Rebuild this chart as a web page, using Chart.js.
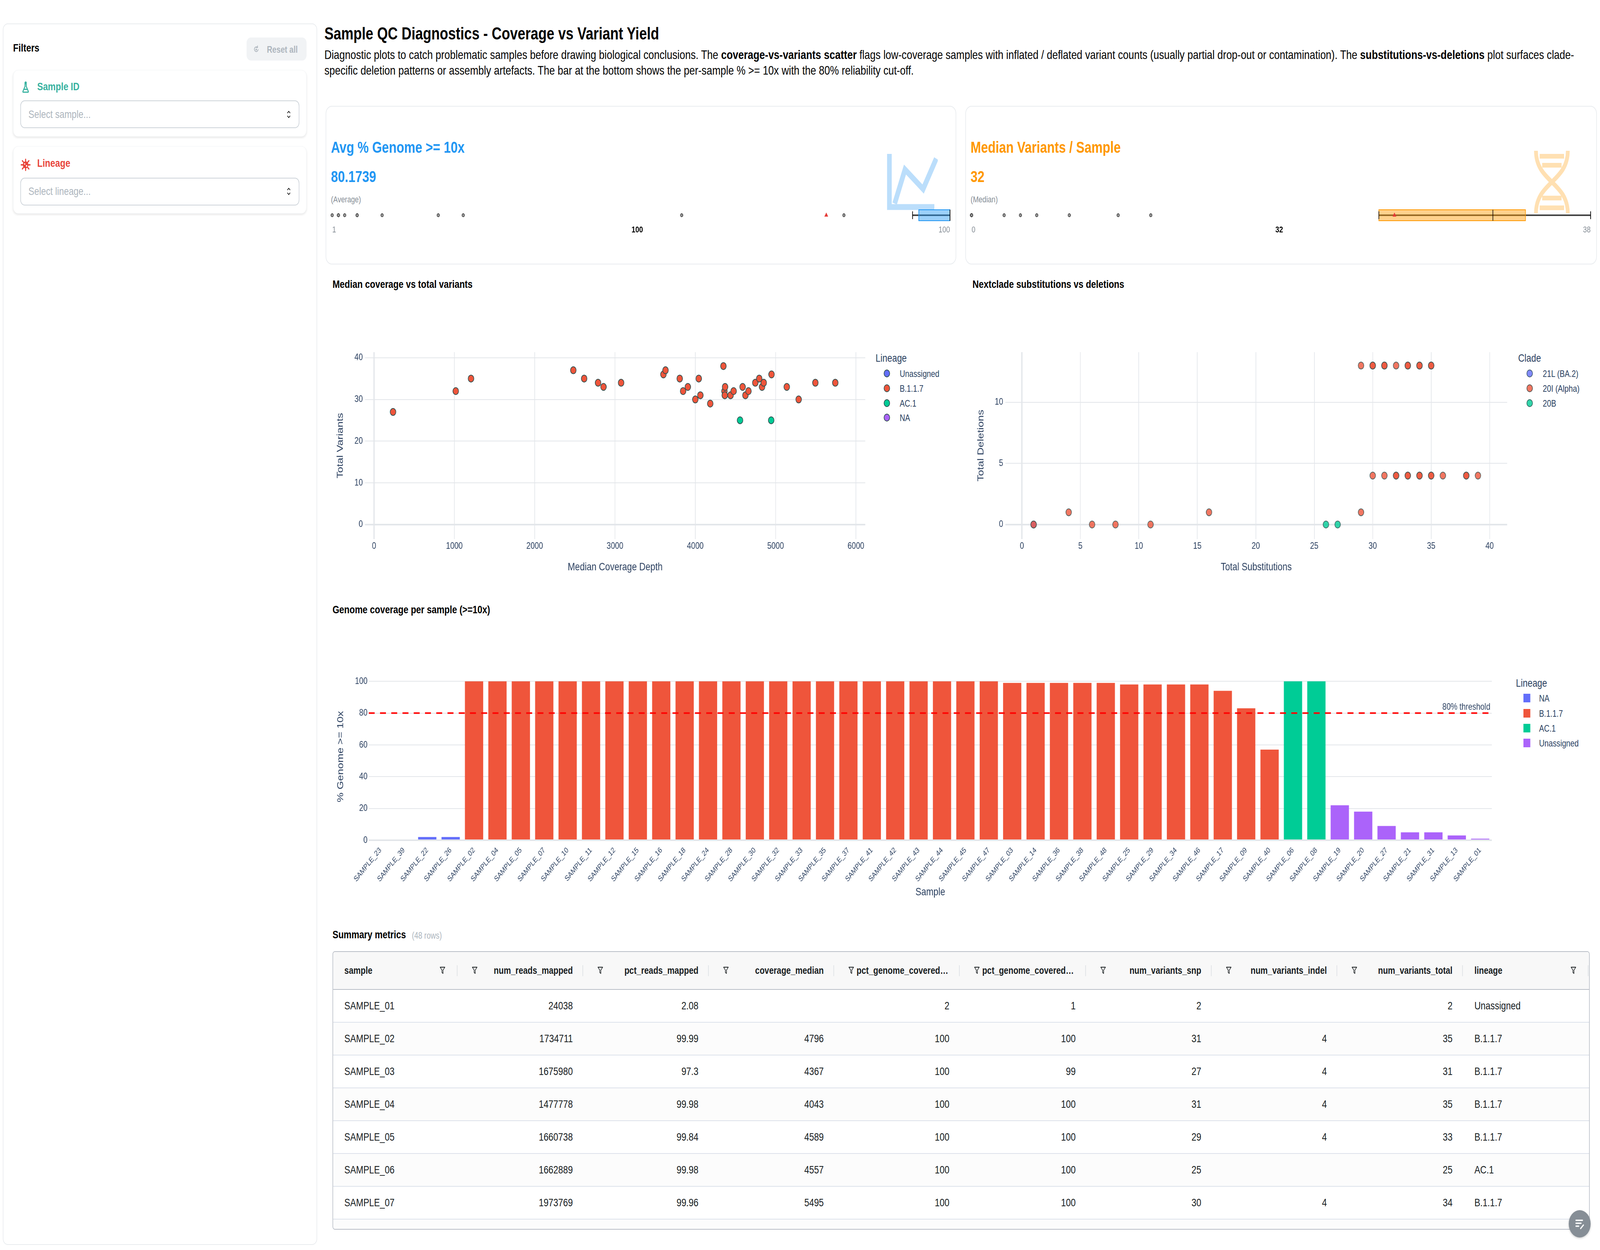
<!DOCTYPE html>
<html>
<head>
<meta charset="utf-8">
<title>Sample QC Diagnostics</title>
<script src="https://cdn.jsdelivr.net/npm/chart.js@4.4.1/dist/chart.umd.min.js"></script>
<style>
html,body{margin:0;padding:0;background:#fff;overflow:hidden;}
#page{position:absolute;left:0;top:0;width:5120px;height:3200px;overflow:hidden;transform-origin:0 0;font-family:'Liberation Sans',Arial,Helvetica,sans-serif;color:#000;background:#fff;}
.t{position:absolute;line-height:1;white-space:nowrap;}
.box{position:absolute;box-sizing:border-box;background:#fff;}
canvas{position:absolute;}
.leg{position:absolute;font-size:24px;line-height:1;color:#2a3f5f;white-space:nowrap;}
.tbl{position:absolute;left:1064px;top:2435px;width:4023px;height:713px;border:2px solid #babfc7;border-radius:8px;box-sizing:border-box;overflow:hidden;background:#fff;color:#181d1f;}
.cell{position:absolute;display:flex;align-items:center;box-sizing:border-box;font-size:28px;white-space:nowrap;}
</style>
</head>
<body>
<div id="page">

<!-- Sidebar -->
<div class="box" style="left:9px;top:60px;width:1006px;height:3127px;border:2px solid #e9ecef;border-radius:16px;"></div>
<div class="t" style="left:42px;top:109px;font-size:28px;font-weight:700;">Filters</div>
<div class="box" style="left:789px;top:96px;width:192px;height:59px;background:#f1f3f5;border-radius:14px;"></div>
<svg class="t" style="left:809px;top:114px;" width="22" height="24" viewBox="0 0 24 24" fill="none" stroke="#adb5bd" stroke-width="2.4" stroke-linecap="round"><path d="M18.5 13a6.5 6.5 0 1 1-2.6-6.2"/><path d="M16.5 2.8v4.4h-4.2"/><circle cx="12" cy="13" r="1.4" fill="#adb5bd"/></svg>
<div class="t" style="left:854px;top:115px;font-size:24px;font-weight:700;color:#adb5bd;">Reset all</div>

<div class="box" style="left:42px;top:179px;width:939px;height:171px;border-radius:16px;border:1px solid #f1f3f5;box-shadow:0 3px 6px rgba(0,0,0,0.09);"></div>
<svg class="t" style="left:66px;top:208px;" width="32" height="32" viewBox="0 0 24 24" fill="none" stroke="#38b2a0" stroke-width="2.3" stroke-linecap="round" stroke-linejoin="round"><circle cx="12" cy="3.2" r="1.6" fill="#38b2a0"/><path d="M10.5 5.5v4.5l-5 9.5a1 1 0 0 0 .9 1.5h11.2a1 1 0 0 0 .9-1.5l-5-9.5V5.5"/><path d="M8 15.5h8"/></svg>
<div class="t" style="left:119px;top:208px;font-size:28px;font-weight:700;color:#38b2a0;">Sample ID</div>
<div class="box" style="left:65px;top:257px;width:893px;height:71px;border:2px solid #ced4da;border-radius:14px;"></div>
<div class="t" style="left:91px;top:279px;font-size:28px;color:#adb5bd;">Select sample...</div>
<svg class="t" style="left:916px;top:280px;" width="16" height="26" viewBox="0 0 16 26" fill="none" stroke="#222" stroke-width="2" stroke-linecap="round"><path d="M4 9l4-4 4 4"/><path d="M4 17l4 4 4-4"/></svg>

<div class="box" style="left:42px;top:374px;width:939px;height:173px;border-radius:16px;border:1px solid #f1f3f5;box-shadow:0 3px 6px rgba(0,0,0,0.09);"></div>
<svg class="t" style="left:64px;top:404px;" width="36" height="36" viewBox="0 0 24 24"><g stroke="#e8443a" stroke-width="2.2" stroke-linecap="round"><path d="M12 2.5v4M12 17.5v4M2.5 12h4M17.5 12h4M5 5l3 3M16 16l3 3M5 19l3-3M16 8l3-3"/></g><circle cx="12" cy="12" r="6" fill="#e8443a"/><circle cx="10" cy="10.5" r="1.3" fill="#fff"/><circle cx="14" cy="13.8" r="1.5" fill="#fff"/></svg>
<div class="t" style="left:119px;top:404px;font-size:28px;font-weight:700;color:#e8443a;">Lineage</div>
<div class="box" style="left:65px;top:455px;width:893px;height:71px;border:2px solid #ced4da;border-radius:14px;"></div>
<div class="t" style="left:91px;top:476px;font-size:28px;color:#adb5bd;">Select lineage...</div>
<svg class="t" style="left:916px;top:477px;" width="16" height="26" viewBox="0 0 16 26" fill="none" stroke="#222" stroke-width="2" stroke-linecap="round"><path d="M4 9l4-4 4 4"/><path d="M4 17l4 4 4-4"/></svg>

<!-- Header -->
<div class="t" style="left:1038px;top:64px;font-size:44px;font-weight:700;">Sample QC Diagnostics - Coverage vs Variant Yield</div>
<div class="t" style="left:1038px;top:124px;font-size:32px;">Diagnostic plots to catch problematic samples before drawing biological conclusions. The <b>coverage-vs-variants scatter</b> flags low-coverage samples with inflated / deflated variant counts (usually partial drop-out or contamination). The <b>substitutions-vs-deletions</b> plot surfaces clade-</div>
<div class="t" style="left:1038px;top:164px;font-size:32px;">specific deletion patterns or assembly artefacts. The bar at the bottom shows the per-sample % &gt;= 10x with the 80% reliability cut-off.</div>

<!-- KPI cards -->
<div class="box" style="left:1042px;top:271px;width:2018px;height:406px;border:2px solid #e9ecef;border-radius:20px;"></div>
<div class="box" style="left:3089px;top:271px;width:2021px;height:406px;border:2px solid #e9ecef;border-radius:20px;"></div>
<svg class="t" style="left:2838px;top:394px;" width="163" height="144" viewBox="0 0 163 144" fill="none" stroke="#bbdefb" stroke-width="15"><path d="M8 0V136H152"/><path d="M25 127L58 40L116 90L158 12"/></svg>
<svg class="t" style="left:4901px;top:386px;" width="130" height="160" viewBox="0 0 130 160" fill="none" stroke="#ffe0b2"><path d="M14 0C14 80 116 80 116 160" stroke-width="12"/><path d="M116 0C116 80 14 80 14 160" stroke-width="12"/><path d="M26 14H104M34 37H96M34 121H96M26 146H104" stroke-width="12"/></svg>

<div class="t" style="left:1059px;top:357px;font-size:40px;font-weight:700;color:#2196f3;">Avg % Genome &gt;= 10x</div>
<div class="t" id="k1val" style="left:1059px;top:432px;font-size:40px;font-weight:700;color:#2196f3;"></div>
<div class="t" style="left:1059px;top:500px;font-size:22px;color:#868e96;">(Average)</div>
<canvas id="kpi1" width="2030" height="50" style="left:1040px;top:526px;"></canvas>
<div id="k1lab" class="t" style="left:1063px;top:577px;width:1977px;display:flex;justify-content:space-between;font-size:22px;"></div>

<div class="t" style="left:3106px;top:357px;font-size:40px;font-weight:700;color:#ff9800;">Median Variants / Sample</div>
<div class="t" id="k2val" style="left:3106px;top:432px;font-size:40px;font-weight:700;color:#ff9800;"></div>
<div class="t" style="left:3106px;top:500px;font-size:22px;color:#868e96;">(Median)</div>
<canvas id="kpi2" width="2020" height="50" style="left:3090px;top:526px;"></canvas>
<div id="k2lab" class="t" style="left:3109px;top:577px;width:1981px;display:flex;justify-content:space-between;font-size:22px;"></div>

<!-- Chart titles -->
<div class="t" style="left:1064px;top:714px;font-size:28px;font-weight:700;">Median coverage vs total variants</div>
<div class="t" style="left:3112px;top:714px;font-size:28px;font-weight:700;">Nextclade substitutions vs deletions</div>
<div class="t" style="left:1064px;top:1547px;font-size:28px;font-weight:700;">Genome coverage per sample (&gt;=10x)</div>

<canvas id="sc1" width="1726" height="591" style="left:1064px;top:880px;"></canvas>
<canvas id="sc2" width="1731" height="591" style="left:3112px;top:880px;"></canvas>
<canvas id="bar" width="3730" height="604" style="left:1064px;top:1700px;"></canvas>
<div id="legends"></div>

<!-- Table -->
<div class="t" style="left:1064px;top:2379px;font-size:28px;font-weight:700;">Summary metrics</div>
<div class="t" style="left:1318px;top:2384px;font-size:23px;color:#adb5bd;">(48 rows)</div>
<div class="tbl" id="tbl"></div>

<div class="box" style="left:5020px;top:3098px;width:70px;height:70px;border-radius:50%;background:#868e96;box-shadow:0 2px 6px rgba(0,0,0,0.2);"></div>
<svg class="t" style="left:5037px;top:3115px;" width="36" height="36" viewBox="0 0 24 24" fill="none" stroke="#fff" stroke-width="2.2" stroke-linecap="round"><path d="M4 6h14M4 11h11M4 16h6"/><path d="M14 20l6-6"/></svg>
</div>

<script>
// ---- fit the 5120x3200 design exactly into the actual viewport ----
(function () {
  const vw = window.innerWidth || document.documentElement.clientWidth || 5120;
  const vh = window.innerHeight || document.documentElement.clientHeight || 3200;
  const sx = vw / 5120, sy = vh / 3200;
  const page = document.getElementById('page');
  page.style.transform = 'scale(' + sx + ',' + sy + ')';
  document.body.style.width = vw + 'px';
  document.body.style.height = vh + 'px';
})();

// ================= DATA =================
// Scatter 1: median coverage vs total variants (per lineage)
const scatter1Lineages = ['Unassigned', 'B.1.1.7', 'AC.1', 'NA'];
const unassignedCoverage = [];
const unassignedVariants = [];
const b117Coverage = [236, 1017, 1207, 2481, 2616, 2789, 2857, 3076, 3603, 3629, 3806, 3848, 3907, 4000, 4043, 4063, 4186, 4350, 4363, 4367, 4371, 4439, 4477, 4589, 4624, 4662, 4747, 4796, 4831, 4852, 4949, 5139, 5287, 5495, 5743];
const b117Variants = [27, 32, 35, 37, 35, 34, 33, 34, 36, 37, 35, 32, 33, 30, 35, 31, 29, 38, 32, 31, 33, 31, 32, 33, 31, 32, 34, 35, 33, 34, 36, 33, 30, 34, 34];
const ac1Coverage = [4557, 4945];
const ac1Variants = [25, 25];
const naCoverage = [];
const naVariants = [];
// total variants of low-coverage samples (no coverage median)
const lowCovVariantTotals = [0, 0, 0, 0, 0, 2, 3, 4, 6, 9, 11];
const coverageTicks = [0, 1000, 2000, 3000, 4000, 5000, 6000];
const variantTicks = [0, 10, 20, 30, 40];

// Scatter 2: Nextclade substitutions vs deletions (per clade)
const cladeNames = ['21L (BA.2)', '20I (Alpha)', '20B'];
const ba2Subs = [1];
const ba2Dels = [0];
const alphaSubs = [29, 30, 30, 31, 31, 32, 33, 33, 34, 34, 35, 35, 30, 31, 32, 32, 33, 33, 34, 34, 35, 35, 36, 38, 38, 39, 1, 4, 6, 8, 11, 16, 29];
const alphaDels = [13, 13, 13, 13, 13, 13, 13, 13, 13, 13, 13, 13, 4, 4, 4, 4, 4, 4, 4, 4, 4, 4, 4, 4, 4, 4, 0, 1, 0, 0, 0, 1, 1];
const b20Subs = [26, 27];
const b20Dels = [0, 0];
const substitutionTicks = [0, 5, 10, 15, 20, 25, 30, 35, 40];
const deletionTicks = [0, 5, 10];

// Bar: % genome >= 10x per sample
const barSamples = ['SAMPLE_23','SAMPLE_39','SAMPLE_22','SAMPLE_26','SAMPLE_02','SAMPLE_04','SAMPLE_05','SAMPLE_07','SAMPLE_10','SAMPLE_11','SAMPLE_12','SAMPLE_15','SAMPLE_16','SAMPLE_18','SAMPLE_24','SAMPLE_28','SAMPLE_30','SAMPLE_32','SAMPLE_33','SAMPLE_35','SAMPLE_37','SAMPLE_41','SAMPLE_42','SAMPLE_43','SAMPLE_44','SAMPLE_45','SAMPLE_47','SAMPLE_03','SAMPLE_14','SAMPLE_36','SAMPLE_38','SAMPLE_48','SAMPLE_25','SAMPLE_29','SAMPLE_34','SAMPLE_46','SAMPLE_17','SAMPLE_09','SAMPLE_40','SAMPLE_06','SAMPLE_08','SAMPLE_19','SAMPLE_20','SAMPLE_27','SAMPLE_21','SAMPLE_31','SAMPLE_13','SAMPLE_01'];
const barPct10x = [null, null, 2, 2, 100, 100, 100, 100, 100, 100, 100, 100, 100, 100, 100, 100, 100, 100, 100, 100, 100, 100, 100, 100, 100, 100, 100, 99, 99, 99, 99, 99, 98, 98, 98, 98, 94, 83, 57, 100, 100, 22, 18, 9, 5, 5, 3, 1];
const barLineage = ['NA','NA','NA','NA','B.1.1.7','B.1.1.7','B.1.1.7','B.1.1.7','B.1.1.7','B.1.1.7','B.1.1.7','B.1.1.7','B.1.1.7','B.1.1.7','B.1.1.7','B.1.1.7','B.1.1.7','B.1.1.7','B.1.1.7','B.1.1.7','B.1.1.7','B.1.1.7','B.1.1.7','B.1.1.7','B.1.1.7','B.1.1.7','B.1.1.7','B.1.1.7','B.1.1.7','B.1.1.7','B.1.1.7','B.1.1.7','B.1.1.7','B.1.1.7','B.1.1.7','B.1.1.7','B.1.1.7','B.1.1.7','B.1.1.7','AC.1','AC.1','Unassigned','Unassigned','Unassigned','Unassigned','Unassigned','Unassigned','Unassigned'];
const barLineageOrder = ['NA', 'B.1.1.7', 'AC.1', 'Unassigned'];
const pctTicks = [0, 20, 40, 60, 80, 100];
const THRESHOLD = 80;

// Table (first visible rows)
const tblHeaders = ['sample','num_reads_mapped','pct_reads_mapped','coverage_median','pct_genome_covered_1x','pct_genome_covered_10x','num_variants_snp','num_variants_indel','num_variants_total','lineage'];
const tblSample = ['SAMPLE_01','SAMPLE_02','SAMPLE_03','SAMPLE_04','SAMPLE_05','SAMPLE_06','SAMPLE_07'];
const tblReads = [24038, 1734711, 1675980, 1477778, 1660738, 1662889, 1973769];
const tblPctReads = ['2.08', '99.99', '97.3', '99.98', '99.84', '99.98', '99.96'];
const tblCoverage = ['', 4796, 4367, 4043, 4589, 4557, 5495];
const tblPct1x = [2, 100, 100, 100, 100, 100, 100];
const tblPct10x = [1, 100, 99, 100, 100, 100, 100];
const tblSnp = [2, 31, 27, 31, 29, 25, 30];
const tblIndel = ['', 4, 4, 4, 4, '', 4];
const tblTotal = [2, 35, 31, 35, 33, 25, 34];
const tblLineage = ['Unassigned', 'B.1.1.7', 'B.1.1.7', 'B.1.1.7', 'B.1.1.7', 'AC.1', 'B.1.1.7'];

// ================= STYLE =================
const FONT = "'Liberation Sans', Arial, Helvetica, sans-serif";
Chart.defaults.font.family = FONT;
const INK = '#2a3f5f';
const GRID = '#e3e6ea';
const BLUE = '#636efa', RED = '#ef553b', GREEN = '#00cc96', PURPLE = '#ab63fa';
const scatter1Colors = {'Unassigned': BLUE, 'B.1.1.7': RED, 'AC.1': GREEN, 'NA': PURPLE};
const cladeColors = {'21L (BA.2)': 'rgba(99,110,250,0.8)', '20I (Alpha)': 'rgba(239,85,59,0.8)', '20B': 'rgba(0,204,150,0.8)'};
const barColors = {'NA': BLUE, 'B.1.1.7': RED, 'AC.1': GREEN, 'Unassigned': PURPLE};

function setTicks(vals) { return s => { s.ticks = vals.map(v => ({value: v})); }; }
function gridWidth(c) { return (c.tick && c.tick.value === 0) ? 4 : 2; }
const baseOpts = {responsive: false, animation: false, devicePixelRatio: 1};

// ================= SCATTER 1 =================
const s1Data = {
  'Unassigned': [unassignedCoverage, unassignedVariants],
  'B.1.1.7': [b117Coverage, b117Variants],
  'AC.1': [ac1Coverage, ac1Variants],
  'NA': [naCoverage, naVariants]
};
new Chart(document.getElementById('sc1'), {
  type: 'scatter',
  data: {datasets: scatter1Lineages.map((l, k) => ({
    label: l,
    data: s1Data[l][0].map((x, i) => ({x: x, y: s1Data[l][1][i]})),
    backgroundColor: scatter1Colors[l], borderColor: '#2f4f4f', borderWidth: 2,
    pointRadius: 9, pointHoverRadius: 9, order: scatter1Lineages.length - k
  }))},
  options: Object.assign({}, baseOpts, {
    layout: {padding: {top: 10, right: 21, left: 0, bottom: 0}},
    plugins: {legend: {display: false}, tooltip: {enabled: false}},
    scales: {
      x: {type: 'linear', min: -113, max: 6117, afterBuildTicks: setTicks(coverageTicks), afterFit: s => { s.height = 91; },
        grid: {color: GRID, lineWidth: gridWidth, drawTicks: false}, border: {display: false},
        ticks: {color: INK, font: {size: 24}, padding: 4, maxRotation: 0, callback: v => String(v)},
        title: {display: true, text: 'Median Coverage Depth', color: INK, font: {size: 28}, padding: {top: 0, bottom: 2}}},
      y: {type: 'linear', min: -3.48, max: 41.35, afterBuildTicks: setTicks(variantTicks), afterFit: s => { s.width = 104; },
        grid: {color: GRID, lineWidth: gridWidth, drawTicks: false}, border: {display: false},
        ticks: {color: INK, font: {size: 24}, padding: 7, callback: v => String(v)},
        title: {display: true, text: 'Total Variants', color: INK, font: {size: 28}, padding: {top: 8, bottom: 0}}}
    }
  })
});

// ================= SCATTER 2 =================
const s2Data = {'21L (BA.2)': [ba2Subs, ba2Dels], '20I (Alpha)': [alphaSubs, alphaDels], '20B': [b20Subs, b20Dels]};
new Chart(document.getElementById('sc2'), {
  type: 'scatter',
  data: {datasets: cladeNames.map((c, k) => ({
    label: c,
    data: s2Data[c][0].map((x, i) => ({x: x, y: s2Data[c][1][i]})),
    backgroundColor: cladeColors[c], borderColor: 'rgba(47,79,79,0.8)', borderWidth: 2,
    pointRadius: 9, pointHoverRadius: 9, order: cladeNames.length - k
  }))},
  options: Object.assign({}, baseOpts, {
    layout: {padding: {top: 10, right: 20, left: 0, bottom: 0}},
    plugins: {legend: {display: false}, tooltip: {enabled: false}},
    scales: {
      x: {type: 'linear', min: -1.42, max: 41.5, afterBuildTicks: setTicks(substitutionTicks), afterFit: s => { s.height = 91; },
        grid: {color: GRID, lineWidth: gridWidth, drawTicks: false}, border: {display: false},
        ticks: {color: INK, font: {size: 24}, padding: 4, maxRotation: 0, callback: v => String(v)},
        title: {display: true, text: 'Total Substitutions', color: INK, font: {size: 28}, padding: {top: 0, bottom: 2}}},
      y: {type: 'linear', min: -1.19, max: 14.1, afterBuildTicks: setTicks(deletionTicks), afterFit: s => { s.width = 105; },
        grid: {color: GRID, lineWidth: gridWidth, drawTicks: false}, border: {display: false},
        ticks: {color: INK, font: {size: 24}, padding: 7, callback: v => String(v)},
        title: {display: true, text: 'Total Deletions', color: INK, font: {size: 28}, padding: {top: 10, bottom: 0}}}
    }
  })
});

// ================= BAR =================
const thresholdPlugin = {
  id: 'threshold',
  afterDatasetsDraw(chart, args, opts) {
    const a = chart.chartArea, y = chart.scales.y, ctx = chart.ctx;
    const py = y.getPixelForValue(opts.value);
    ctx.save();
    ctx.strokeStyle = '#ff0000'; ctx.lineWidth = 4; ctx.setLineDash([19, 17]);
    ctx.beginPath(); ctx.moveTo(a.left, py); ctx.lineTo(a.right, py); ctx.stroke();
    ctx.setLineDash([]);
    ctx.fillStyle = INK; ctx.font = '24px ' + FONT; ctx.textAlign = 'right'; ctx.textBaseline = 'alphabetic';
    ctx.fillText(opts.label, a.right - 5, py - 9);
    ctx.restore();
  }
};
new Chart(document.getElementById('bar'), {
  type: 'bar',
  data: {labels: barSamples, datasets: barLineageOrder.map(l => ({
    label: l,
    data: barSamples.map((s, i) => barLineage[i] === l ? barPct10x[i] : null),
    backgroundColor: barColors[l], borderWidth: 0, barPercentage: 0.78, categoryPercentage: 1
  }))},
  options: Object.assign({}, baseOpts, {
    layout: {padding: {top: 23, right: 20, left: 0, bottom: 0}},
    plugins: {legend: {display: false}, tooltip: {enabled: false}, threshold: {value: THRESHOLD, label: THRESHOLD + '% threshold'}},
    scales: {
      x: {stacked: true, afterFit: s => { s.height = 153; }, grid: {display: false}, border: {display: false},
        ticks: {color: INK, font: {size: 20}, padding: 6, autoSkip: false, maxRotation: 45, minRotation: 45},
        title: {display: true, text: 'Sample', color: INK, font: {size: 28}, padding: {top: 0, bottom: 3}}},
      y: {stacked: true, min: 0, max: 105.2, afterBuildTicks: setTicks(pctTicks), afterFit: s => { s.width = 116; },
        grid: {color: GRID, lineWidth: gridWidth, drawTicks: false}, border: {display: false},
        ticks: {color: INK, font: {size: 24}, padding: 4, callback: v => String(v)},
        title: {display: true, text: '% Genome >= 10x', color: INK, font: {size: 28}, padding: {top: 9, bottom: 0}}}
    }
  }),
  plugins: [thresholdPlugin]
});

// ================= LEGENDS (HTML) =================
function addLegend(title, names, colors, tx, ty, mx, txtX, ys, shape) {
  const root = document.getElementById('legends');
  let h = '<div class="leg" style="left:' + tx + 'px;top:' + (ty - 14) + 'px;font-size:28px;">' + title + '</div>';
  names.forEach((n, i) => {
    const y = ys[i];
    if (shape === 'circle') {
      h += '<div style="position:absolute;box-sizing:border-box;left:' + (mx - 10) + 'px;top:' + (y - 10) + 'px;width:20px;height:20px;border-radius:50%;background:' + colors[n] + ';border:2px solid ' + (n in cladeColors ? 'rgba(47,79,79,0.8)' : '#2f4f4f') + ';"></div>';
    } else {
      h += '<div style="position:absolute;left:' + (mx - 11) + 'px;top:' + (y - 11) + 'px;width:22px;height:22px;background:' + colors[n] + ';"></div>';
    }
    h += '<div class="leg" style="left:' + txtX + 'px;top:' + (y - 11) + 'px;">' + n + '</div>';
  });
  root.insertAdjacentHTML('beforeend', h);
}
addLegend('Lineage', scatter1Lineages, scatter1Colors, 2802, 917, 2838, 2879, [956, 994, 1032, 1069], 'circle');
addLegend('Clade', cladeNames, cladeColors, 4858, 917, 4895, 4937, [956, 994, 1032], 'circle');
addLegend('Lineage', barLineageOrder, barColors, 4851, 1749, 4886, 4925, [1787, 1826, 1864, 1902], 'square');

// ================= KPI strips =================
function quantile(s, p) { const pos = (s.length - 1) * p; const lo = Math.floor(pos), hi = Math.ceil(pos); return s[lo] + (s[hi] - s[lo]) * (pos - lo); }
function boxStats(vals) {
  const s = vals.slice().sort((a, b) => a - b);
  const q1 = quantile(s, 0.25), med = quantile(s, 0.5), q3 = quantile(s, 0.75), iqr = q3 - q1;
  const lf = q1 - 1.5 * iqr, uf = q3 + 1.5 * iqr;
  const inside = s.filter(v => v >= lf && v <= uf);
  return {min: s[0], max: s[s.length - 1], q1, med, q3, lo: inside[0], hi: inside[inside.length - 1],
          out: s.filter(v => v < lf || v > uf), mean: s.reduce((a, b) => a + b, 0) / s.length};
}
const kpiBoxPlugin = {
  id: 'kpiBox',
  beforeDatasetsDraw(chart, args, o) {
    const ctx = chart.ctx, x = chart.scales.x, y = chart.scales.y;
    const cy = y.getPixelForValue(0), px = v => x.getPixelForValue(v), h = 28;
    ctx.save();
    ctx.strokeStyle = '#444'; ctx.lineWidth = 4;
    ctx.beginPath(); ctx.moveTo(px(o.lo), cy); ctx.lineTo(px(o.hi), cy); ctx.stroke();
    ctx.fillStyle = o.fill; ctx.fillRect(px(o.q1), cy - h / 2, px(o.q3) - px(o.q1), h);
    ctx.strokeStyle = o.line; ctx.lineWidth = 2; ctx.strokeRect(px(o.q1), cy - h / 2, px(o.q3) - px(o.q1), h);
    ctx.strokeStyle = '#000'; ctx.lineWidth = 2;
    ctx.beginPath(); ctx.moveTo(px(o.med), cy - h / 2); ctx.lineTo(px(o.med), cy + h / 2); ctx.stroke();
    [o.lo, o.hi].forEach(v => { ctx.beginPath(); ctx.moveTo(px(v), cy - 10); ctx.lineTo(px(v), cy + 10); ctx.stroke(); });
    ctx.restore();
  }
};
function kpiStrip(id, st, fill, line, padL, padR) {
  new Chart(document.getElementById(id), {
    type: 'scatter',
    data: {datasets: [
      {data: [{x: st.mean, y: 0}], pointStyle: 'triangle', pointRadius: 7, backgroundColor: '#e53935', borderWidth: 0, clip: false},
      {data: st.out.map(v => ({x: v, y: 0})), pointRadius: 4, backgroundColor: '#9a9a9a', borderColor: '#222', borderWidth: 1.5, clip: false}
    ]},
    options: Object.assign({}, baseOpts, {
      layout: {padding: {left: padL, right: padR, top: 0, bottom: 0}},
      plugins: {legend: {display: false}, tooltip: {enabled: false},
        kpiBox: {lo: st.lo, hi: st.hi, q1: st.q1, q3: st.q3, med: st.med, fill: fill, line: line}},
      scales: {x: {type: 'linear', display: false, min: st.min, max: st.max}, y: {type: 'linear', display: false, min: -1, max: 1}}
    }),
    plugins: [kpiBoxPlugin]
  });
}
function stripLabels(id, st) {
  document.getElementById(id).innerHTML =
    '<span style="color:#868e96">' + st.min + '</span><span style="font-weight:700">' + st.med + '</span><span style="color:#868e96">' + st.max + '</span>';
}
const genomeVals = barPct10x.filter(v => v !== null);
const variantVals = b117Variants.concat(ac1Variants, lowCovVariantTotals);
const st1 = boxStats(genomeVals), st2 = boxStats(variantVals);
document.getElementById('k1val').textContent = st1.mean.toFixed(4);
document.getElementById('k2val').textContent = String(st2.med);
kpiStrip('kpi1', st1, 'rgba(33,150,243,0.45)', '#2196f3', 23, 30);
kpiStrip('kpi2', st2, 'rgba(255,152,0,0.45)', '#ff9800', 19, 20);
stripLabels('k1lab', st1);
stripLabels('k2lab', st2);

// ================= TABLE =================
(function buildTable() {
  const tbl = document.getElementById('tbl');
  const bounds = [0, 399, 801, 1203, 1604, 2006, 2410, 2812, 3214, 3616, 4018];
  const leftCols = [0, 9];
  const funnel = '<svg width="18" height="26" viewBox="0 0 18 26" fill="none" stroke="#181d1f" stroke-width="1.8" stroke-linejoin="round"><path d="M1.5 5h15l-5.8 7.5v8.5l-3.4-2.3v-6.2z"/></svg>';
  let h = '<div style="position:absolute;left:0;top:0;width:100%;height:95px;background:#f8f8f8;border-bottom:2px solid #babfc7;"></div>';
  tblHeaders.forEach((name, c) => {
    const L = bounds[c] - 2, W = bounds[c + 1] - bounds[c];
    if (leftCols.indexOf(c) >= 0) {
      h += '<div class="cell" style="left:' + (L + 38) + 'px;top:0;height:95px;font-size:26px;font-weight:700;">' + name + '</div>';
      h += '<div style="position:absolute;left:' + (L + W - 56) + 'px;top:34px;">' + funnel + '</div>';
    } else {
      h += '<div style="position:absolute;left:' + (L + 47) + 'px;top:34px;">' + funnel + '</div>';
      h += '<div class="cell" style="left:' + (L + 73) + 'px;width:' + (W - 73 - 32) + 'px;top:0;height:95px;font-size:26px;font-weight:700;justify-content:flex-end;"><span style="overflow:hidden;text-overflow:ellipsis;">' + name + '</span></div>';
    }
    if (c > 0) h += '<div style="position:absolute;left:' + (L - 1) + 'px;top:34px;width:2px;height:28px;background:#dde0e4;"></div>';
  });
  h += '<div style="position:absolute;left:' + (bounds[10] - 3) + 'px;top:34px;width:2px;height:28px;background:#dde0e4;"></div>';
  const cols = [tblSample, tblReads, tblPctReads, tblCoverage, tblPct1x, tblPct10x, tblSnp, tblIndel, tblTotal, tblLineage];
  for (let r = 0; r < tblSample.length + 1; r++) {
    const top = 97 + r * 84;
    h += '<div style="position:absolute;left:0;top:' + top + 'px;width:100%;height:82px;background:' + (r % 2 ? '#fcfcfc' : '#fff') + ';border-bottom:2px solid #dde2eb;"></div>';
    if (r >= tblSample.length) continue;
    cols.forEach((col, c) => {
      const L = bounds[c] - 2, W = bounds[c + 1] - bounds[c];
      const v = col[r];
      if (leftCols.indexOf(c) >= 0) {
        h += '<div class="cell" style="left:' + (L + 38) + 'px;top:' + top + 'px;height:82px;">' + v + '</div>';
      } else {
        h += '<div class="cell" style="left:' + L + 'px;width:' + (W - 32) + 'px;top:' + top + 'px;height:82px;justify-content:flex-end;">' + v + '</div>';
      }
    });
  }
  tbl.innerHTML = h;
})();
</script>
</body>
</html>
